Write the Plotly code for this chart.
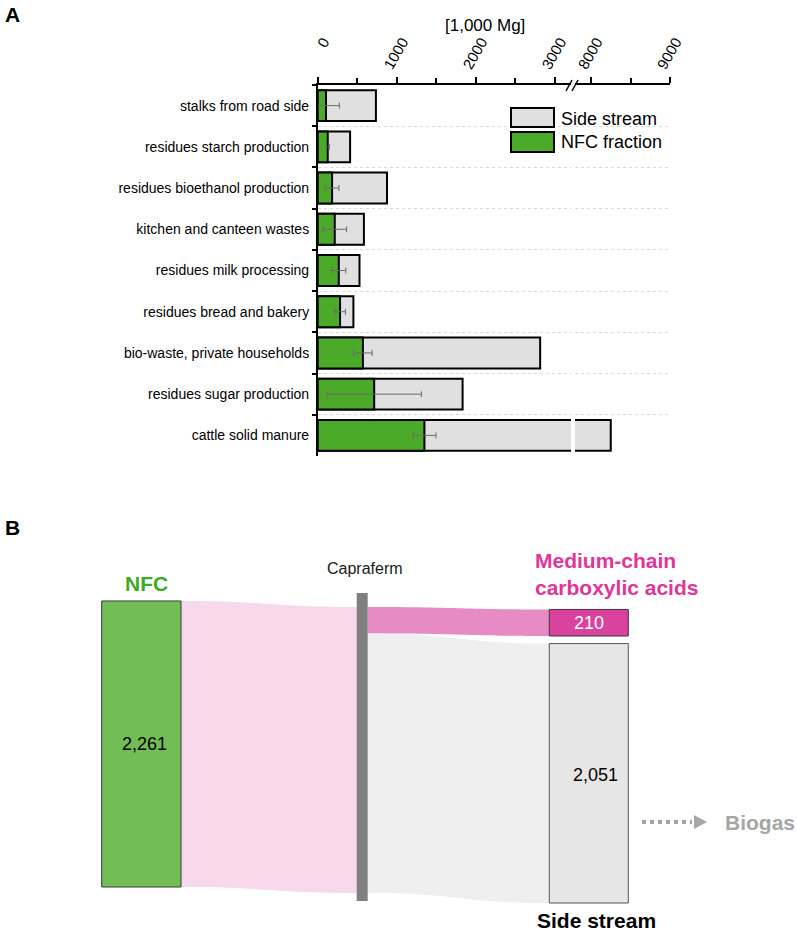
import plotly.graph_objects as go

W, H = 797, 934

# ---------------- data: panel A ----------------
categories = [
    "stalks from road side",
    "residues starch production",
    "residues bioethanol production",
    "kitchen and canteen wastes",
    "residues milk processing",
    "residues bread and bakery",
    "bio-waste, private households",
    "residues sugar production",
    "cattle solid manure",
]
side_stream = [737, 410, 877, 585, 529, 452, 2816, 1834, 8250]
nfc_fraction = [105, 127, 182, 216, 267, 283, 572, 715, 1351]
nfc_error = [170, 20, 86, 150, 89, 68, 117, 597, 146]

low_ticks = [0, 1000, 2000, 3000]
high_ticks = [8000, 9000]

# ---------------- data: panel B ----------------
nfc_total = 2261
mcca_total = 210
side_total = 2051

FONT = "Liberation Sans, Arial, sans-serif"
GRAY = "#e0e0e0"
GREEN = "#4caa2b"

def px(x):
    return x / W

def py(y):
    return 1 - y / H

def tick_text(v):
    s = str(v)
    return "\u2007" * (4 - len(s)) + s   # right-align labels like the original

fig = go.Figure()

# gray total bars (lower and upper segment of broken axis)
for xa in ["x", "x2"]:
    fig.add_trace(go.Bar(
        y=categories, x=side_stream, orientation="h", name="Side stream",
        marker=dict(color=GRAY, line=dict(color="black", width=2)),
        width=0.75, xaxis=xa, yaxis="y", showlegend=False, hoverinfo="x+y",
    ))
fig.add_trace(go.Bar(
    y=categories, x=nfc_fraction, orientation="h", name="NFC fraction",
    marker=dict(color=GREEN, line=dict(color="black", width=2)),
    width=0.75, xaxis="x", yaxis="y", showlegend=False,
    error_x=dict(type="data", array=nfc_error, color="#6a6a6a", thickness=1, width=3),
))

# ---- panel A axes ----
scale = 0.079  # px per unit
x_lo0, x_lo1 = 317.7, 571.0
x_hi0, x_hi1 = 575.0, 670.0
lo_range = [0, (x_lo1 - x_lo0) / scale]
hi_range = [9000 - (x_hi1 - x_hi0) / scale, 9000]
yA0, yA1 = 85.0, 456.0

axis_common = dict(
    side="top", showline=True, linecolor="black", linewidth=1.5,
    ticks="outside", ticklen=6, tickwidth=1.5, tickcolor="black",
    tickangle=-60, tickfont=dict(family=FONT, size=15, color="black"),
    ticklabelshift=-11, ticklabelstandoff=-3,
    showgrid=False, zeroline=False, fixedrange=True, automargin=False,
)
fig.update_layout(
    xaxis=dict(domain=[px(x_lo0), px(x_lo1)], range=lo_range, anchor="y",
               tickmode="array", tickvals=low_ticks, ticktext=[tick_text(v) for v in low_ticks],
               minor=dict(tickmode="array", tickvals=[500, 1500, 2500], ticks="outside",
                          ticklen=5, tickwidth=1.5, tickcolor="black"),
               **axis_common),
    xaxis2=dict(domain=[px(x_hi0), px(x_hi1)], range=hi_range, anchor="y",
                tickmode="array", tickvals=high_ticks, ticktext=[tick_text(v) for v in high_ticks],
                minor=dict(tickmode="array", tickvals=[8500], ticks="outside",
                           ticklen=5, tickwidth=1.5, tickcolor="black"),
                **axis_common),
    yaxis=dict(domain=[py(yA1), py(yA0)], anchor="x", type="category",
               categoryorder="array", categoryarray=categories, autorange="reversed",
               tickson="boundaries", ticks="outside", ticklen=4, tickwidth=1.5,
               tickcolor="black", showline=True, linecolor="black", linewidth=1.5,
               showgrid=True, gridcolor="#dadada", griddash="dot", gridwidth=1,
               tickfont=dict(family=FONT, size=14, color="black"),
               ticklabelstandoff=4,
               zeroline=False, fixedrange=True, automargin=False),
)

shapes = []
annotations = []

def pann(text, x, y, size, color="black", xanchor="center"):
    annotations.append(dict(text=text, x=px(x), y=py(y), xref="paper", yref="paper",
                            xanchor=xanchor, yanchor="middle", showarrow=False,
                            font=dict(family=FONT, size=size, color=color)))

# axis break marks
for dx in (-3, 3):
    shapes.append(dict(type="line", xref="paper", yref="paper",
                       x0=px(569 + dx), y0=py(91), x1=px(575 + dx), y1=py(80),
                       line=dict(color="black", width=1.5)))
pann("[1,000 Mg]", 485, 26, 17)

# manual legend
shapes.append(dict(type="rect", xref="paper", yref="paper", x0=px(511), x1=px(554),
                   y0=py(127), y1=py(108), fillcolor=GRAY, line=dict(color="black", width=2)))
shapes.append(dict(type="rect", xref="paper", yref="paper", x0=px(511), x1=px(554),
                   y0=py(152), y1=py(132), fillcolor=GREEN, line=dict(color="black", width=2)))
pann("Side stream", 559, 119, 18, xanchor="left")
pann("NFC fraction", 559, 142, 18, xanchor="left")

# panel labels
pann("<b>A</b>", 3, 14, 21, xanchor="left")
pann("<b>B</b>", 3, 527, 21, xanchor="left")

# ---------------- panel B (flow diagram in value units) ----------------
pxB = 0.1265           # px per value unit
B_top_px = 540
B_range = (H - B_top_px) / pxB
fig.update_layout(
    xaxis3=dict(domain=[0, 1], range=[0, W], visible=False, anchor="y3",
                fixedrange=True, automargin=False),
    yaxis3=dict(domain=[0, py(B_top_px)], range=[0, B_range], visible=False, anchor="x3",
                fixedrange=True, automargin=False),
)
# a dummy invisible trace so that subplot 3 exists
fig.add_trace(go.Scatter(x=[0], y=[0], xaxis="x3", yaxis="y3", mode="markers",
                         marker=dict(opacity=0), showlegend=False, hoverinfo="skip"))

def vy(pix):
    return (H - pix) / pxB

# node positions (layout)
nfc_x0, nfc_x1 = 101.7, 181.0
cap_x0, cap_x1 = 356.7, 367.7
out_x0, out_x1 = 549.3, 628.3

nfc_b = vy(887)
nfc_t = nfc_b + nfc_total
cap_in_b = vy(893)
cap_in_t = cap_in_b + nfc_total
mcca_b_l = cap_in_t - mcca_total
side_b_l = cap_in_b
mcca_node_b = vy(636)
mcca_node_t = mcca_node_b + mcca_total
side_node_b = vy(903)
side_node_t = side_node_b + side_total

def link(x0, b0, t0, x1, b1, t1, color):
    xm = (x0 + x1) / 2
    path = (f"M {x0},{t0} C {xm},{t0} {xm},{t1} {x1},{t1} "
            f"L {x1},{b1} C {xm},{b1} {xm},{b0} {x0},{b0} Z")
    return dict(type="path", xref="x3", yref="y3", path=path, fillcolor=color,
                line=dict(width=0), layer="below")

shapes.append(link(nfc_x1, nfc_b, nfc_t, cap_x0, cap_in_b, cap_in_t, "#f8d9ec"))
shapes.append(link(cap_x1, mcca_b_l, cap_in_t, out_x0, mcca_node_b, mcca_node_t, "#e68bc4"))
shapes.append(link(cap_x1, side_b_l, mcca_b_l, out_x0, side_node_b, side_node_t, "#efefef"))

# nodes
shapes.append(dict(type="rect", xref="x3", yref="y3", x0=nfc_x0, x1=nfc_x1, y0=nfc_b, y1=nfc_t,
                   fillcolor="#72bd55", line=dict(color="#3a3a3a", width=1)))
shapes.append(dict(type="rect", xref="x3", yref="y3", x0=cap_x0, x1=cap_x1,
                   y0=vy(901), y1=vy(593), fillcolor="#7f7f7f", line=dict(width=0)))
shapes.append(dict(type="rect", xref="x3", yref="y3", x0=out_x0, x1=out_x1,
                   y0=mcca_node_b, y1=mcca_node_t, fillcolor="#d9439e",
                   line=dict(color="#3a3a3a", width=1)))
shapes.append(dict(type="rect", xref="x3", yref="y3", x0=out_x0, x1=out_x1,
                   y0=side_node_b, y1=side_node_t, fillcolor="#e6e6e6",
                   line=dict(color="#555555", width=1)))

def ann(text, x, y, size, color, bold=False, xanchor="center", align="center"):
    t = f"<b>{text}</b>" if bold else text
    annotations.append(dict(text=t, x=x, y=y, xref="x3", yref="y3", showarrow=False,
                            xanchor=xanchor, yanchor="middle", align=align,
                            font=dict(family=FONT, size=size, color=color)))

ann("NFC", 146, vy(583), 21, "#3cab1f", bold=True)
ann(f"{nfc_total:,}", 144, (nfc_b + nfc_t) / 2, 18, "black")
ann("Capraferm", 365, vy(568), 16, "#1a1a1a")
ann("Medium-chain<br>carboxylic acids", 533, vy(574), 21, "#e0369b", bold=True,
    xanchor="left", align="left")
ann(f"{mcca_total:,}", 589, (mcca_node_b + mcca_node_t) / 2, 18, "white")
ann(f"{side_total:,}", 595, vy(775), 18, "black")
ann("Side stream", 596, vy(920), 21, "black", bold=True)
ann("Biogas", 760, vy(822), 21, "#a6a6a6", bold=True)

# dotted arrow to biogas
shapes.append(dict(type="line", xref="x3", yref="y3", x0=642, x1=692, y0=vy(822), y1=vy(822),
                   line=dict(color="#a6a6a6", width=4, dash="dot")))
shapes.append(dict(type="path", xref="x3", yref="y3",
                   path=f"M 694,{vy(815)} L 707,{vy(822)} L 694,{vy(829)} Z",
                   fillcolor="#a6a6a6", line=dict(width=0)))

fig.update_layout(
    width=W, height=H, margin=dict(l=0, r=0, t=0, b=0, pad=0),
    paper_bgcolor="white", plot_bgcolor="rgba(0,0,0,0)",
    barmode="overlay", showlegend=False,
    shapes=shapes, annotations=annotations,
    font=dict(family=FONT),
)

fig.write_html("out.html")
